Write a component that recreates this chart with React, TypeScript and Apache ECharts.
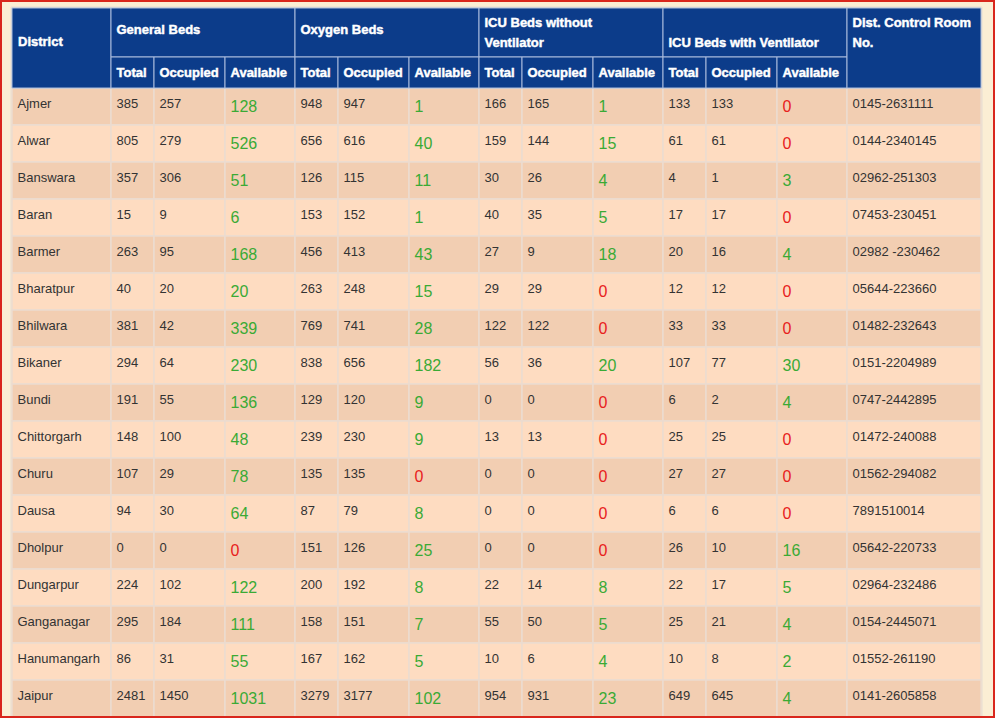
import React, { useEffect, useRef } from 'react';
import * as echarts from 'echarts';

// ---------- data ----------
const districts = ['Ajmer', 'Alwar', 'Banswara', 'Baran', 'Barmer', 'Bharatpur', 'Bhilwara', 'Bikaner', 'Bundi', 'Chittorgarh', 'Churu', 'Dausa', 'Dholpur', 'Dungarpur', 'Ganganagar', 'Hanumangarh', 'Jaipur'];
const generalTotal = [385, 805, 357, 15, 263, 40, 381, 294, 191, 148, 107, 94, 0, 224, 295, 86, 2481];
const generalOccupied = [257, 279, 306, 9, 95, 20, 42, 64, 55, 100, 29, 30, 0, 102, 184, 31, 1450];
const generalAvailable = [128, 526, 51, 6, 168, 20, 339, 230, 136, 48, 78, 64, 0, 122, 111, 55, 1031];
const oxygenTotal = [948, 656, 126, 153, 456, 263, 769, 838, 129, 239, 135, 87, 151, 200, 158, 167, 3279];
const oxygenOccupied = [947, 616, 115, 152, 413, 248, 741, 656, 120, 230, 135, 79, 126, 192, 151, 162, 3177];
const oxygenAvailable = [1, 40, 11, 1, 43, 15, 28, 182, 9, 9, 0, 8, 25, 8, 7, 5, 102];
const icuTotal = [166, 159, 30, 40, 27, 29, 122, 56, 0, 13, 0, 0, 0, 22, 55, 10, 954];
const icuOccupied = [165, 144, 26, 35, 9, 29, 122, 36, 0, 13, 0, 0, 0, 14, 50, 6, 931];
const icuAvailable = [1, 15, 4, 5, 18, 0, 0, 20, 0, 0, 0, 0, 0, 8, 5, 4, 23];
const ventTotal = [133, 61, 4, 17, 20, 12, 33, 107, 6, 25, 27, 6, 26, 22, 25, 10, 649];
const ventOccupied = [133, 61, 1, 17, 16, 12, 33, 77, 2, 25, 27, 6, 10, 17, 21, 8, 645];
const ventAvailable = [0, 0, 3, 0, 4, 0, 0, 30, 4, 0, 0, 0, 16, 5, 4, 2, 4];
const controlRoom = ['0145-2631111', '0144-2340145', '02962-251303', '07453-230451', '02982 -230462', '05644-223660', '01482-232643', '0151-2204989', '0747-2442895', '01472-240088', '01562-294082', '7891510014', '05642-220733', '02964-232486', '0154-2445071', '01552-261190', '0141-2605858'];

const firstHeader = 'District';
const groupHeaders = ['General Beds', 'Oxygen Beds', 'ICU Beds without\nVentilator', 'ICU Beds with Ventilator'];
const subHeaders = ['Total', 'Occupied', 'Available'];
const lastHeader = 'Dist. Control Room\nNo.';

// ---------- layout / style ----------
const COL_W = [99, 43, 71, 70, 43, 71, 70, 43, 71, 70, 43, 71, 70, 134];
const TABLE_X = 12;
const TABLE_Y = 8;
const HEAD1_H = 49;
const HEAD2_H = 31;
const ROW_H = 37;
const GROUP_TEXT_Y = [29, 29, 32.5, 42];
const FONT = '"Liberation Sans", Arial, Helvetica, sans-serif';
const HEAD_FILL = '#0c3c8a';
const HEAD_LINE = '#a9bbdc';
const ROW_ODD = '#f2ceb2';
const ROW_EVEN = '#fedcc1';
const CELL_LINE = '#ebdbd0';
const TEXT_COLOR = '#333333';
const GREEN = '#3aaa35';
const RED = '#e8201c';
const AVAILABLE_COLS = [3, 6, 9, 12];

const columns: (string | number)[][] = [
  districts,
  generalTotal, generalOccupied, generalAvailable,
  oxygenTotal, oxygenOccupied, oxygenAvailable,
  icuTotal, icuOccupied, icuAvailable,
  ventTotal, ventOccupied, ventAvailable,
  controlRoom,
];

const edges: number[] = [0];
COL_W.forEach((w) => edges.push(edges[edges.length - 1] + w));
const TOTAL_W = edges[edges.length - 1];

export default function App() {
  const ref = useRef<HTMLDivElement>(null);
  useEffect(() => {
    document.body.style.margin = '0';
    if (!ref.current) return;
    const chart = echarts.init(ref.current, null, { renderer: 'svg' });

    const cellData: number[][] = [];
    districts.forEach((_, r) => {
      columns.forEach((_, c) => {
        cellData.push([edges[c], r, edges[c + 1], c]);
      });
    });

    const graphics: any[] = [];
    // page background
    graphics.push({ type: 'rect', z: 0, shape: { x: 0, y: 0, width: 995, height: 718 }, style: { fill: '#fbeed4' } });
    graphics.push({ type: 'rect', z: 1, shape: { x: TABLE_X - 1, y: TABLE_Y - 1, width: TOTAL_W + 2, height: 718 }, style: { fill: 'none', stroke: '#e6dcd2', lineWidth: 1 } });

    const headText = (text: string, x: number, y: number) => ({
      type: 'text', z: 20,
      x, y,
      style: {
        text, fill: '#ffffff', font: `bold 13px ${FONT}`, verticalAlign: 'middle', align: 'left', lineHeight: 20,
        stroke: '#ffffff', lineWidth: 0.45,
      },
    });
    const headRect = (x: number, y: number, w: number, h: number) => ({
      type: 'rect', z: 10,
      shape: { x, y, width: w, height: h },
      style: { fill: HEAD_FILL, stroke: HEAD_LINE, lineWidth: 1 },
    });
    // background of header
    graphics.push({ type: 'rect', z: 9, shape: { x: TABLE_X, y: TABLE_Y, width: TOTAL_W, height: HEAD1_H + HEAD2_H }, style: { fill: HEAD_FILL } });
    // District
    graphics.push(headRect(TABLE_X + edges[0], TABLE_Y, COL_W[0], HEAD1_H + HEAD2_H));
    graphics.push(headText(firstHeader, TABLE_X + edges[0] + 6, 41.5));
    // groups
    groupHeaders.forEach((g, i) => {
      const c0 = 1 + i * 3;
      const x = TABLE_X + edges[c0];
      const w = edges[c0 + 3] - edges[c0];
      graphics.push(headRect(x, TABLE_Y, w, HEAD1_H));
      graphics.push(headText(g, x + 5.5, GROUP_TEXT_Y[i]));
      subHeaders.forEach((s, j) => {
        const c = c0 + j;
        const sx = TABLE_X + edges[c];
        graphics.push(headRect(sx, TABLE_Y + HEAD1_H, COL_W[c], HEAD2_H));
        graphics.push(headText(s, sx + 5.5, TABLE_Y + HEAD1_H + HEAD2_H / 2));
      });
    });
    // last column
    const lc = COL_W.length - 1;
    graphics.push(headRect(TABLE_X + edges[lc], TABLE_Y, COL_W[lc], HEAD1_H + HEAD2_H));
    graphics.push(headText(lastHeader, TABLE_X + edges[lc] + 5.5, 32.5));
    // red page border
    graphics.push({ type: 'rect', z: 100, shape: { x: 1, y: 1, width: 993, height: 716 }, style: { fill: 'none', stroke: '#d9261c', lineWidth: 2 } });

    chart.setOption({
      animation: false,
      graphic: graphics,
      grid: { left: TABLE_X, top: TABLE_Y + HEAD1_H + HEAD2_H, width: TOTAL_W, height: districts.length * ROW_H, containLabel: false },
      xAxis: { type: 'value', min: 0, max: TOTAL_W, show: false },
      yAxis: { type: 'category', data: districts, inverse: true, show: false },
      series: [
        {
          type: 'custom',
          z: 5,
          clip: false,
          encode: { x: [0, 2], y: 1 },
          data: cellData,
          renderItem: (params: any, api: any) => {
            const x0 = api.value(0);
            const r = api.value(1);
            const x1 = api.value(2);
            const c = api.value(3);
            const p0 = api.coord([x0, r]);
            const p1 = api.coord([x1, r]);
            const h = api.size([0, 1])[1];
            const top = p0[1] - h / 2;
            const raw = columns[c][r];
            const isAvail = AVAILABLE_COLS.indexOf(c) >= 0;
            const color = isAvail ? ((raw as number) > 0 ? GREEN : RED) : TEXT_COLOR;
            return {
              type: 'group',
              children: [
                {
                  type: 'rect',
                  shape: { x: p0[0], y: top, width: p1[0] - p0[0], height: h },
                  style: { fill: r % 2 === 0 ? ROW_ODD : ROW_EVEN, stroke: CELL_LINE, lineWidth: 1.5 },
                },
                {
                  type: 'text',
                  x: p0[0] + 5.5,
                  y: top + (isAvail ? 18.5 : 15),
                  style: {
                    text: String(raw),
                    fill: color,
                    font: `${isAvail ? 16 : 13}px ${FONT}`,
                    verticalAlign: 'middle',
                    align: 'left',
                  },
                },
              ],
            };
          },
        },
      ],
    });
    return () => chart.dispose();
  }, []);
  return <div ref={ref} style={{ width: 995, height: 718 }} />;
}
